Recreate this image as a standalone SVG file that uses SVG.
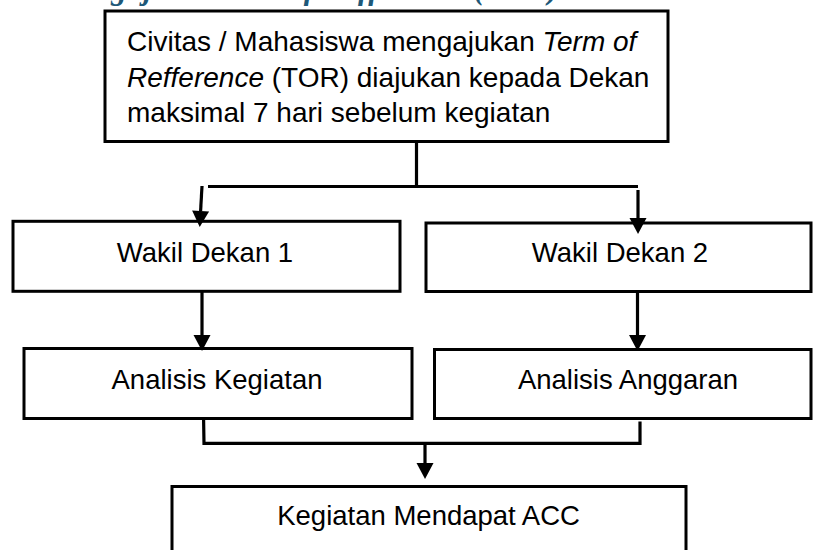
<svg xmlns="http://www.w3.org/2000/svg" width="813" height="550" viewBox="0 0 813 550">
  <style>
    .box { fill: #ffffff; stroke: #000000; stroke-width: 3; }
    .lbl { font-family: "Liberation Sans", Arial, sans-serif; font-size: 27.5px; fill: #000000; }
    .big { font-family: "Liberation Sans", Arial, sans-serif; font-size: 28px; fill: #000000; }
    .it { font-style: italic; }
    .title { font-family: "Liberation Serif", "Times New Roman", serif; font-size: 31px; font-weight: bold; font-style: italic; fill: #1E5878; }
    .con { fill: none; stroke: #000000; stroke-width: 3.2; }
  </style>
  <defs>
    <marker id="ah" markerUnits="userSpaceOnUse" markerWidth="17" markerHeight="18" refX="0" refY="8" orient="auto" viewBox="0 0 16 16" overflow="visible">
      <path d="M0,0 L15,8 L0,16 z" fill="#000000"/>
    </marker>
  </defs>
  <rect width="813" height="550" fill="#ffffff"/>

  <text class="title" x="60" y="-1" textLength="498" lengthAdjust="spacing">Pengajuan Term of Refference (TOR)</text>

  <g id="node-tor">
    <rect class="box" x="105" y="11" width="563" height="130.5"/>
    <text class="big" x="127" y="50.5">Civitas / Mahasiswa mengajukan <tspan class="it">Term of</tspan></text>
    <text class="big" x="127" y="86.5"><tspan class="it">Refference</tspan> (TOR) diajukan kepada Dekan</text>
    <text class="big" x="127" y="121.5">maksimal 7 hari sebelum kegiatan</text>
  </g>

  <g id="node-wd1">
    <rect class="box" x="13" y="221.3" width="387" height="70"/>
    <text class="lbl" x="205" y="262" text-anchor="middle">Wakil Dekan 1</text>
  </g>

  <g id="node-wd2">
    <rect class="box" x="426" y="223" width="385" height="68.5"/>
    <text class="lbl" x="620" y="262.3" text-anchor="middle">Wakil Dekan 2</text>
  </g>

  <g id="node-ak">
    <rect class="box" x="24" y="348.5" width="388" height="70"/>
    <text class="lbl" x="217" y="388.5" text-anchor="middle">Analisis Kegiatan</text>
  </g>

  <g id="node-aa">
    <rect class="box" x="434.5" y="349.5" width="376.5" height="69"/>
    <text class="lbl" x="628" y="388.5" text-anchor="middle">Analisis Anggaran</text>
  </g>

  <g id="node-acc">
    <rect class="box" x="172" y="486.5" width="514" height="80"/>
    <text class="lbl" x="428.6" y="524.5" text-anchor="middle">Kegiatan Mendapat ACC</text>
  </g>

  <g id="connectors">
    <path class="con" d="M416.5,142 L416.5,188"/>
    <path class="con" d="M208,186.5 L638,186.5"/>
    <path class="con" d="M202,186 L200.6,211" marker-end="url(#ah)"/>
    <path class="con" d="M638,190 L638,218" marker-end="url(#ah)"/>
    <path class="con" d="M202,292 L202,335" marker-end="url(#ah)"/>
    <path class="con" d="M637.5,292 L637.5,335" marker-end="url(#ah)"/>
    <path class="con" d="M203.6,420 L204,443.3 L640,443.3 L640,421.5"/>
    <path class="con" d="M425,443 L425,463" marker-end="url(#ah)"/>
  </g>
</svg>
